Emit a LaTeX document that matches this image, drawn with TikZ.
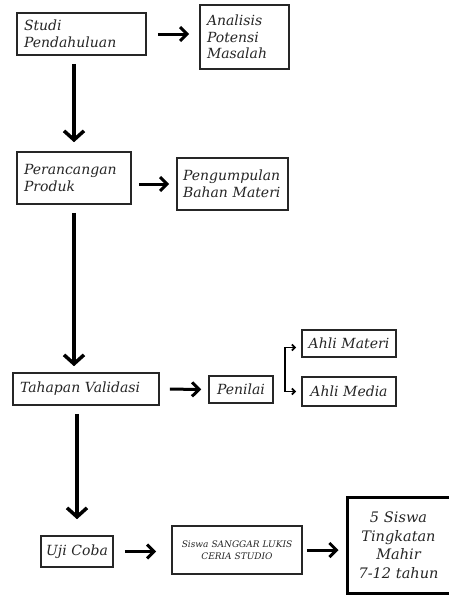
\documentclass[tikz,border=0pt]{standalone}
\usepackage{fontspec}
\setmainfont{DejaVu Serif}
\usetikzlibrary{arrows.meta}

\begin{document}
\begin{tikzpicture}[x=1pt, y=-1pt,
		kotak/.style={draw=black!85, line width=1.6pt, inner xsep=7pt, inner ysep=3pt, align=left, text=black!85, font=\fontsize{14}{16.5}\selectfont\itshape},
		panah/.style={-{Straight Barb[length=7pt,width=14pt]}, line width=3pt},
		panahbesar/.style={-{Straight Barb[length=9pt,width=20pt]}, line width=3.5pt}
	]
	\useasboundingbox (0,0) rectangle (448,595);

	\node[kotak, text width=115pt, minimum height=42pt] (studi) at (81.5,34) {Studi\\Pendahuluan};
	\node[kotak, text width=75pt, minimum height=64pt] (analisis) at (244.5,37) {Analisis\\Potensi\\Masalah};

	\node[kotak, text width=100pt, minimum height=52pt] (rancang) at (74,178) {Perancangan\\Produk};
	\node[kotak, inner xsep=6pt, text width=99pt, minimum height=52pt] (kumpul) at (232.5,184) {Pengumpulan\\Bahan Materi};

	\node[kotak, text width=132pt, minimum height=32pt] (validasi) at (86,389) {Tahapan Validasi};
	\node[kotak, inner xsep=5pt, text width=54pt, minimum height=27pt, align=center] (penilai) at (241,389.5) {Penilai};
	\node[kotak, inner xsep=5pt, text width=84pt, minimum height=27pt, align=center] (materi) at (349,343.5) {Ahli Materi};
	\node[kotak, inner xsep=5pt, text width=84pt, minimum height=29pt, align=center] (media) at (349,391.5) {Ahli Media};

	\node[kotak, inner xsep=4pt, text width=64pt, minimum height=31pt, align=center] (uji) at (77,551.5) {Uji Coba};
	\node[kotak, text width=116pt, minimum height=48pt, align=center, font=\fontsize{9}{12}\selectfont\itshape] (siswa) at (237,550) {Siswa SANGGAR LUKIS\\CERIA STUDIO};
	\node[kotak, draw=black, line width=3pt, inner xsep=5pt, text width=93pt, minimum height=96pt, align=center, font=\fontsize{14.5}{18.5}\selectfont\itshape] (mahir) at (398.5,545) {5 Siswa\\Tingkatan\\Mahir\\7-12 tahun};

	% alur ke bawah
	\draw[panahbesar, shorten <=8pt, shorten >=9pt] (studi.south -| rancang.north) -- (rancang.north);
	\draw[panahbesar, shorten <=8pt, shorten >=6pt] (rancang.south) -- (rancang.south |- validasi.north);
	\draw[panahbesar, shorten <=8pt, shorten >=16pt] (validasi.south -| uji.north) -- (uji.north);

	% alur ke kanan
	\draw[panah, shorten <=11pt, shorten >=10pt] (studi.east) -- (studi.east -| analisis.west);
	\draw[panah, shorten <=7pt, shorten >=7pt] (rancang.east |- kumpul.west) -- (kumpul.west);
	\draw[panah, shorten <=10pt, shorten >=7pt] (validasi.east) -- (penilai.west);
	\draw[panah, shorten <=11pt, shorten >=15pt] (uji.east) -- (uji.east -| siswa.west);
	\draw[panah, shorten <=4pt, shorten >=7pt] (siswa.east) -- (siswa.east -| mahir.west);

	\draw[line width=1.8pt, {Straight Barb[length=3pt,width=6pt]}-{Straight Barb[length=3pt,width=6pt]}]
		([shift={(-5pt,-4pt)}]materi.west) -- ([shift={(-16pt,-4pt)}]materi.west)
		-- ([xshift=-16pt]media.west) -- ([xshift=-5pt]media.west);

\end{tikzpicture}
\end{document}
